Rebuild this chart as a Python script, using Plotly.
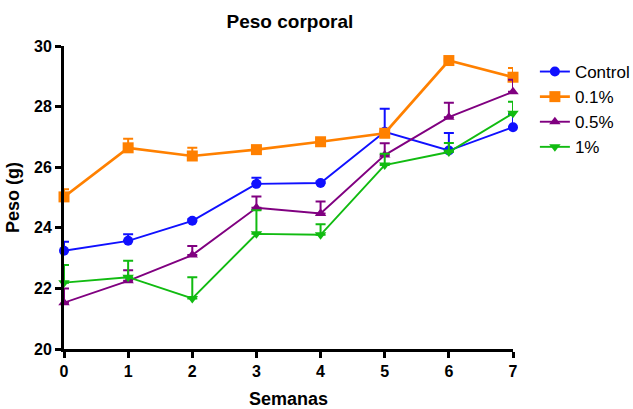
import plotly.graph_objects as go

weeks = [0, 1, 2, 3, 4, 5, 6, 7]
series_names = ["Control", "0.1%", "0.5%", "1%"]

control = [23.24, 23.57, 24.23, 25.45, 25.48, 27.17, 26.55, 27.32]
control_err = [0.30, 0.22, 0.05, 0.20, 0.05, 0.76, 0.58, 0.40]

p01 = [25.02, 26.64, 26.37, 26.58, 26.84, 27.12, 29.52, 28.97]
p01_err = [0.25, 0.30, 0.27, 0.08, 0.08, 0.08, 0.06, 0.30]

p05 = [21.53, 22.25, 23.10, 24.66, 24.47, 26.40, 27.65, 28.49]
p05_err = [0.47, 0.35, 0.30, 0.37, 0.40, 0.39, 0.48, 0.40]

p1 = [22.19, 22.37, 21.67, 23.80, 23.77, 26.07, 26.50, 27.78]
p1_err = [0.58, 0.54, 0.70, 0.78, 0.35, 0.37, 0.30, 0.38]

values = [control, p01, p05, p1]
errors = [control_err, p01_err, p05_err, p1_err]
colors = ["#1010ff", "#ff8000", "#800080", "#11bb11"]
symbols = ["circle", "square", "triangle-up", "triangle-down"]
widths = [1.9, 2.7, 1.9, 1.9]
msizes = [10, 11, 10, 10]

fig = go.Figure()
for name, y, e, c, s, w, ms in zip(series_names, values, errors, colors, symbols, widths, msizes):
    fig.add_trace(go.Scatter(
        x=weeks, y=y, name=name, mode="lines+markers",
        line=dict(color=c, width=w),
        marker=dict(color=c, symbol=s, size=ms),
        error_y=dict(type="data", array=e, arrayminus=[0] * len(e), symmetric=False,
                     color=c, thickness=2, width=5),
        cliponaxis=False,
    ))

font_family = "Liberation Sans, Arial, sans-serif"
fig.update_layout(
    width=633, height=409,
    margin=dict(l=64, r=120, t=46, b=60, autoexpand=False),
    paper_bgcolor="white", plot_bgcolor="white",
    font=dict(family=font_family, color="black"),
    title=dict(text="<b>Peso corporal</b>", x=0.458, xanchor="center", y=0.948, yanchor="middle",
               font=dict(size=19, color="black")),
    showlegend=True,
    legend=dict(x=0.845, y=0.868, xref="container", yref="container", xanchor="left", yanchor="top",
                font=dict(size=17, color="black"), tracegroupgap=0,
                itemwidth=30, bgcolor="rgba(0,0,0,0)"),
    xaxis=dict(range=[0, 7], tickvals=weeks, ticktext=[str(w) for w in weeks], automargin=False,
               showgrid=False, zeroline=False, showline=True, linecolor="black", linewidth=3,
               ticks="outside", ticklen=6, tickwidth=2.5, tickcolor="black",
               tickfont=dict(size=16, family=font_family, weight="bold"),
               title=dict(text="<b>Semanas</b>", font=dict(size=18), standoff=15)),
    yaxis=dict(range=[20, 30], tickvals=[20, 22, 24, 26, 28, 30], automargin=False,
               showgrid=False, zeroline=False, showline=True, linecolor="black", linewidth=3,
               ticks="outside", ticklen=6, tickwidth=2.5, tickcolor="black",
               tickfont=dict(size=16, family=font_family, weight="bold"),
               title=dict(text="<b>Peso (g)</b>", font=dict(size=18), standoff=10)),
)

fig.write_html("out.html")
